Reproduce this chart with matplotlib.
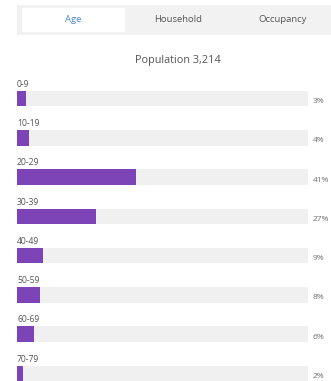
import matplotlib
matplotlib.use("Agg")
import matplotlib.pyplot as plt
from matplotlib.patches import Rectangle

# ---- data ----
tabs = ["Age", "Household", "Occupancy"]
title = "Population 3,214"
age_groups = ["0-9", "10-19", "20-29", "30-39", "40-49", "50-59", "60-69", "70-79"]
percents = [3, 4, 41, 27, 9, 8, 6, 2]

W, H = 331, 381
fig = plt.figure(figsize=(W / 100, H / 100), dpi=100)
fig.patch.set_facecolor("white")
plt.rcParams["font.family"] = ["Open Sans", "DejaVu Sans"]

# overlay axes in pixel coordinates for header decorations
hdr = fig.add_axes([0, 0, 1, 1])
hdr.set_xlim(0, W)
hdr.set_ylim(H, 0)
hdr.axis("off")
hdr.add_patch(Rectangle((17, 5), W - 17, 30, facecolor="#f2f2f2", edgecolor="none"))
hdr.add_patch(Rectangle((22, 8), 103, 24, facecolor="white", edgecolor="none"))
tab_x = [73.5, 178, 283]
for i, (t, x) in enumerate(zip(tabs, tab_x)):
    hdr.text(x, 20, t, ha="center", va="center", fontsize=6.8,
             color="#4a86d8" if i == 0 else "#555555")
hdr.text(178, 61, title, ha="center", va="center", fontsize=7.8, color="#555555")

# bars axes
x0, x1 = 17, 308
spacing = 39.25
c0 = 98.5
ax = fig.add_axes([x0 / W, 0, (x1 - x0) / W, 1])
ax.set_xlim(0, 100)
ax.set_ylim((H - c0) / spacing, -c0 / spacing)
ax.axis("off")
ypos = list(range(len(age_groups)))
bh = 15.5 / spacing
ax.barh(ypos, [100] * len(ypos), height=bh, color="#f0f0f0", edgecolor="none")
ax.barh(ypos, percents, height=bh, color="#7c44b6", edgecolor="none")
for y, lab, p in zip(ypos, age_groups, percents):
    ax.text(0, y - 0.36, lab, ha="left", va="center", fontsize=6.2, color="#555555")
    ax.text(101.6, y + 0.08, f"{p}%", ha="left", va="center", fontsize=6,
            color="#707070", clip_on=False)

fig.savefig("out.png", dpi=100, facecolor="white")
